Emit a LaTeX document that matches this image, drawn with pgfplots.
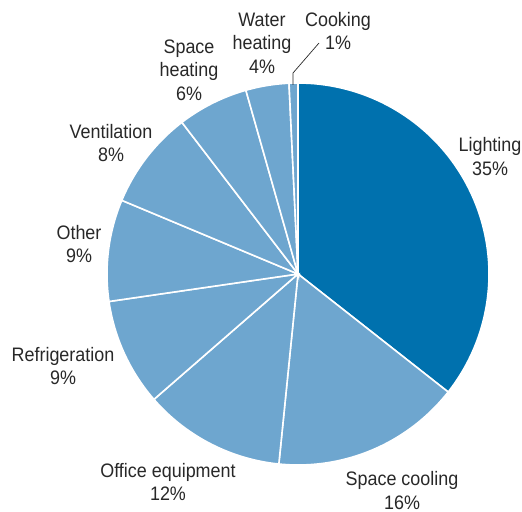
\documentclass[border=0pt]{standalone}
\usepackage{pgfplots}
\pgfplotsset{compat=1.18}
\usepackage{fontspec}
\setmainfont[FakeStretch=0.92]{Liberation Sans}
\definecolor{darkb}{RGB}{0,113,174}
\definecolor{lightb}{RGB}{110,166,207}
\definecolor{txt}{RGB}{40,40,40}
\tikzset{lbl/.style={font=\fontsize{19.5bp}{23.5bp}\selectfont, text=txt, align=center, inner sep=0pt}}
\begin{document}
\begin{tikzpicture}
% shares (%), clockwise from 12 o'clock
\def\vA{35.6}% Lighting
\def\vB{16.0}% Space cooling
\def\vC{12.0}% Office equipment
\def\vD{9.1}% Refrigeration
\def\vE{8.6}% Other
\def\vF{8.3}% Ventilation
\def\vG{6.0}% Space heating
\def\vH{3.65}% Water heating
\def\vI{0.75}% Cooking
\pgfmathsetmacro\aA{90}
\pgfmathsetmacro\aB{\aA-3.6*\vA}
\pgfmathsetmacro\aC{\aB-3.6*\vB}
\pgfmathsetmacro\aD{\aC-3.6*\vC}
\pgfmathsetmacro\aE{\aD-3.6*\vD}
\pgfmathsetmacro\aF{\aE-3.6*\vE}
\pgfmathsetmacro\aG{\aF-3.6*\vF}
\pgfmathsetmacro\aH{\aG-3.6*\vG}
\pgfmathsetmacro\aI{\aH-3.6*\vH}
\pgfmathsetmacro\aJ{\aI-3.6*\vI}
\begin{axis}[
  scale only axis, width=522bp, height=512bp,
  xmin=0, xmax=522, ymin=0, ymax=512,
  hide axis, clip=false,
]
\addplot[fill=darkb, draw=white, line width=1.6bp, domain=\aB:\aA, samples=80] ({298+191*cos(x)},{238+191*sin(x)}) -- (axis cs:298,238) -- cycle;
\addplot[fill=lightb, draw=white, line width=1.6bp, domain=\aC:\aB, samples=50] ({298+191*cos(x)},{238+191*sin(x)}) -- (axis cs:298,238) -- cycle;
\addplot[fill=lightb, draw=white, line width=1.6bp, domain=\aD:\aC, samples=40] ({298+191*cos(x)},{238+191*sin(x)}) -- (axis cs:298,238) -- cycle;
\addplot[fill=lightb, draw=white, line width=1.6bp, domain=\aE:\aD, samples=30] ({298+191*cos(x)},{238+191*sin(x)}) -- (axis cs:298,238) -- cycle;
\addplot[fill=lightb, draw=white, line width=1.6bp, domain=\aF:\aE, samples=30] ({298+191*cos(x)},{238+191*sin(x)}) -- (axis cs:298,238) -- cycle;
\addplot[fill=lightb, draw=white, line width=1.6bp, domain=\aG:\aF, samples=30] ({298+191*cos(x)},{238+191*sin(x)}) -- (axis cs:298,238) -- cycle;
\addplot[fill=lightb, draw=white, line width=1.6bp, domain=\aH:\aG, samples=20] ({298+191*cos(x)},{238+191*sin(x)}) -- (axis cs:298,238) -- cycle;
\addplot[fill=lightb, draw=white, line width=1.6bp, domain=\aI:\aH, samples=15] ({298+191*cos(x)},{238+191*sin(x)}) -- (axis cs:298,238) -- cycle;
\addplot[fill=lightb, draw=white, line width=1.6bp, domain=\aJ:\aI, samples=5] ({298+191*cos(x)},{238+191*sin(x)}) -- (axis cs:298,238) -- cycle;
% leader line for Cooking
\addplot[draw=txt, line width=0.7bp] coordinates {(293,427) (293,439) (319,469)};
% labels
\node[lbl] at (axis cs:490,512-156.5) {Lighting\\35\%};
\node[lbl] at (axis cs:402,512-490.5) {Space cooling\\16\%};
\node[lbl] at (axis cs:168,512-482) {Office equipment\\12\%};
\node[lbl] at (axis cs:63,512-366) {Refrigeration\\9\%};
\node[lbl] at (axis cs:79,512-244) {Other\\9\%};
\node[lbl] at (axis cs:111,512-143) {Ventilation\\8\%};
\node[lbl] at (axis cs:189,512-70) {Space\\heating\\6\%};
\node[lbl] at (axis cs:262,512-43) {Water\\heating\\4\%};
\node[lbl] at (axis cs:338,512-31) {Cooking\\1\%};
\end{axis}
\pgfresetboundingbox
\path (0,0) rectangle (522bp,512bp);
\end{tikzpicture}
\end{document}
